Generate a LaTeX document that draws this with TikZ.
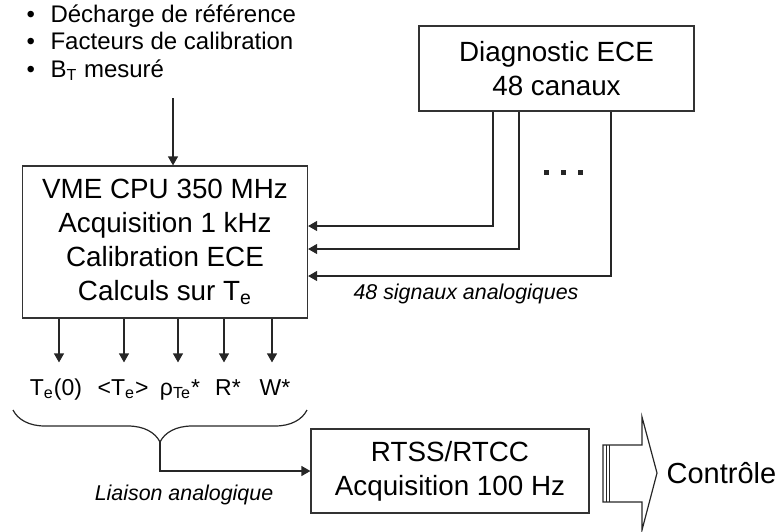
\documentclass[tikz,border=0pt]{standalone}
\usepackage{fontspec}
\setmainfont{Liberation Sans}
\usepackage{tikz}
\usetikzlibrary{arrows.meta,positioning,decorations.pathreplacing}

\begin{document}
\begin{tikzpicture}[
  x=0.5pt, y=-0.5pt,
  line width=0.6pt,
  box/.style={draw=black!80, rectangle, align=center, inner sep=0pt,
    font=\fontsize{13.9}{17}\selectfont},
  arr/.style={draw=black!85, -{Triangle[length=4.5pt,width=5pt]}},
  wire/.style={draw=black!85},
  outlab/.style={font=\fontsize{11.5}{14}\selectfont, text height=8.5pt,
    text depth=2.5pt, inner xsep=1pt, inner ysep=7.5pt},
  note/.style={font=\fontsize{10.7}{13}\selectfont\itshape}
]
\useasboundingbox (0,0) rectangle (780,531);
% inputs
\node[anchor=north west, inner sep=0pt, align=left,
  font=\fontsize{12}{13.75}\selectfont] (inputs) at (26,4)
  {\makebox[12pt][l]{•}Décharge de référence\\
   \makebox[12pt][l]{•}Facteurs de calibration\\
   \makebox[12pt][l]{•}B\textsubscript{T} mesuré};
% boxes
\node[box, minimum width=142.5pt, minimum height=76pt] (vme) at (165,242)
  {VME CPU 350 MHz\\Acquisition 1 kHz\\Calibration ECE\\Calculs sur T\textsubscript{e}};
\node[box, minimum width=137.5pt, minimum height=42.5pt] (diag) at (556.5,68.5)
  {Diagnostic ECE\\48 canaux};
\node[box, minimum width=139pt, minimum height=42pt] (rtss) at (450,471)
  {RTSS/RTCC\\Acquisition 100 Hz};
% feed into the CPU
\coordinate (feed) at (173,98);
\draw[arr] (feed) -- (feed |- vme.north);
% signals from the diagnostic
\draw[arr] ([xshift=-31.75pt]diag.south) |- ([yshift=8pt]vme.east);
\draw[arr] ([xshift=-18.75pt]diag.south) |- ([yshift=-3.5pt]vme.east);
\draw[arr] ([xshift=27.25pt]diag.south) |- ([yshift=-17pt]vme.east);
\foreach \x in {546,563,580}
  \fill[black!85] (\x-2.5,169.5) rectangle (\x+2.5,174.5);
\node[note] (sig) at (466,294) {48 signaux analogiques};
% outputs
\node[outlab, anchor=base] (o1) at (56,395) {T\textsubscript{e}(0)};
\node[outlab, anchor=base] (o2) at (123,395) {<T\textsubscript{e}>};
\node[outlab, anchor=base] (o3) at (180,395) {ρ\textsubscript{Te}*};
\node[outlab, anchor=base] (o4) at (228,395) {R*};
\node[outlab, anchor=base] (o5) at (275,395) {W*};
\foreach \i/\x in {1/59,2/124,3/178,4/224,5/272} {
  \coordinate (s\i) at (\x,0);
  \draw[arr] (s\i |- vme.south) -- (s\i |- o\i.north);
}
% brace and link
\draw[wire, decorate, decoration={brace, mirror, amplitude=16pt}]
  (13,410) -- (307,410);
\coordinate (tip) at (160,442);
\draw[arr] (tip) |- (rtss.west);
\node[note] (link) at (184,495) {Liaison analogique};
% control arrow
\draw[wire] (603,445) -- (642,445) -- (642,417) -- (657,473) -- (642,530)
  -- (642,502) -- (603,502) -- cycle;
\draw[wire, line width=0.4pt] (606,445) -- (606,502);
\draw[wire, line width=0.4pt] (609,445) -- (609,502);
\node[font=\fontsize{14.5}{17}\selectfont, anchor=west, inner sep=0pt] (ctrl)
  at (666,473) {Contrôle};
\end{tikzpicture}
\end{document}
